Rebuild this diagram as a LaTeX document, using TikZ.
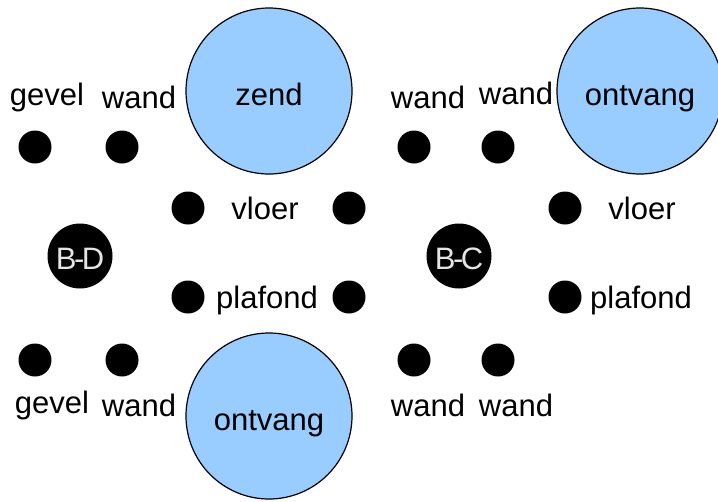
\documentclass[tikz,border=0pt]{standalone}
\usepackage{fontspec}
\setmainfont{Liberation Sans}
\usetikzlibrary{arrows}

\definecolor{lichtblauw}{RGB}{153,204,255}

\newcommand{\bouwdeel}[2]{#1\kern-2.5pt-\kern-2.5pt#2}

\begin{document}
\begin{tikzpicture}
  [x=1pt,y=-1pt,every node/.style={font=\fontsize{31}{37}\selectfont,inner sep=0pt}]

  \tikzstyle{bron} = [draw,circle,fill=lichtblauw,line width=1.2pt,minimum size=166pt,
                      text height=28pt,text depth=0pt]
  \tikzstyle{punt} = [circle,fill=black,minimum size=33pt]
  \tikzstyle{bouw} = [circle,fill=black,text=white!90!black,minimum size=65pt,
                      text height=26pt,text depth=0pt]

  \useasboundingbox (0,0) rectangle (718,501);

  % bronnen
  \node[bron] (zend)  at (269,91)  {zend};
  \node[bron] (ontv1) at (640,91)  {ontvang};
  \node[bron] (ontv2) at (269,416) {ontvang};

  % bouwdelen
  \node[bouw] (BD) at (80,256)  {\bouwdeel{B}{D}};
  \node[bouw] (BC) at (459,256) {\bouwdeel{B}{C}};

  % punten
  \node[punt] (p1)  at (35,147)  {};
  \node[punt] (p2)  at (122,147) {};
  \node[punt] (p3)  at (414,147) {};
  \node[punt] (p4)  at (498,147) {};
  \node[punt] (p5)  at (188,208) {};
  \node[punt] (p6)  at (349,208) {};
  \node[punt] (p7)  at (565,208) {};
  \node[punt] (p8)  at (188,297) {};
  \node[punt] (p9)  at (349,297) {};
  \node[punt] (p10) at (565,297) {};
  \node[punt] (p11) at (35,360)  {};
  \node[punt] (p12) at (122,360) {};
  \node[punt] (p13) at (414,360) {};
  \node[punt] (p14) at (498,360) {};

  % labels
  \node (gevel1) at (47,97)   {gevel};
  \node (wand1)  at (139,97)  {wand};
  \node (wand2)  at (428,97)  {wand};
  \node (wand3)  at (516,93)  {wand};
  \node (vloer1) at (265,208) {vloer};
  \node (vloer2) at (642,208) {vloer};
  \node (plaf1)  at (267,300) {plafond};
  \node (plaf2)  at (641,300) {plafond};
  \node (gevel2) at (52,405)  {gevel};
  \node (wand4)  at (139,405) {wand};
  \node (wand5)  at (428,405) {wand};
  \node (wand6)  at (516,405) {wand};
\end{tikzpicture}
\end{document}
